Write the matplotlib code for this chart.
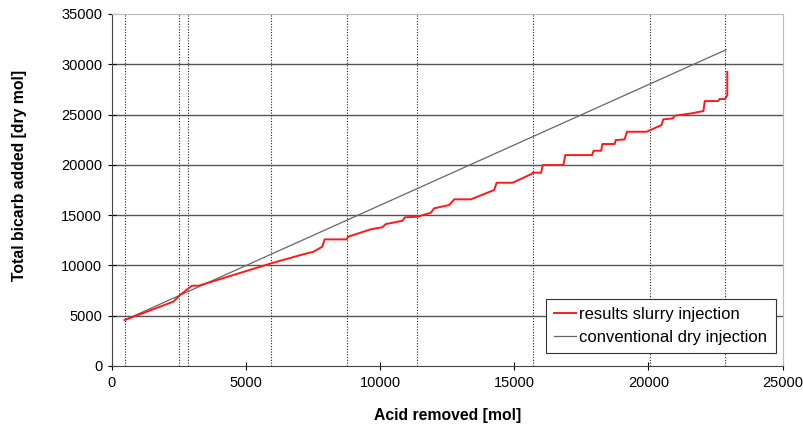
import matplotlib
matplotlib.use("Agg")
import matplotlib.pyplot as plt

plt.rcParams['font.family'] = ['Liberation Sans', 'DejaVu Sans']

# results slurry injection (stepped curve)
slurry_x = [470, 1300, 2290, 2540, 2850, 2980, 3230, 4410, 5940, 7030, 7510, 7840,
            7925, 8750, 8800, 9650, 10080, 10210, 10830, 10920, 11390, 11890, 12010,
            12570, 12760, 13380, 14250, 14340, 14940, 15630, 15690, 16000, 16060,
            16830, 16900, 17900, 17955, 18240, 18280, 18740, 18780, 19110, 19200,
            19930, 20490, 20550, 20920, 20960, 21610, 22050, 22100, 22600, 22650,
            22850, 22940, 22940]
slurry_y = [4570, 5400, 6400, 7060, 7720, 7980, 7980, 8950, 10210, 11030, 11360, 11860,
            12590, 12590, 12850, 13590, 13790, 14110, 14440, 14780, 14840, 15240, 15680,
            16000, 16570, 16570, 17500, 18220, 18220, 19080, 19220, 19220, 19980,
            19980, 20970, 20970, 21400, 21400, 22070, 22070, 22460, 22530, 23290,
            23290, 23960, 24520, 24620, 24880, 25120, 25350, 26340, 26340, 26540,
            26540, 26940, 29250]

# conventional dry injection
dry_x = [460, 22900]
dry_y = [4550, 31450]

# dotted vertical markers
marker_x = [470, 2510, 2850, 5920, 8780, 11380, 15690, 20050, 22870]

fig = plt.figure(figsize=(8.04, 4.37), dpi=100)
ax = fig.add_axes([0.1393, 0.1625, 0.834, 0.8055])

for xv in marker_x:
    ax.axvline(xv, color='#222222', lw=0.8, ls=(0, (1, 1.5)), zorder=1)
for yv in range(5000, 35000, 5000):
    ax.axhline(yv, color='#555555', lw=1.0, zorder=1)

ax.plot(slurry_x, slurry_y, color='#ff1a1a', lw=1.4, label='results slurry injection', zorder=3)
ax.plot(dry_x, dry_y, color='#666666', lw=0.9, label='conventional dry injection', zorder=2)

ax.set_xlim(0, 25000)
ax.set_ylim(0, 35000)
ax.set_xticks(range(0, 25001, 5000))
ax.set_yticks(range(0, 35001, 5000))
ax.tick_params(direction='inout', length=6, width=0.8, labelsize=10.5, pad=4)

for s in ['top', 'right']:
    ax.spines[s].set_color('#bbbbbb')
for s in ['left', 'bottom']:
    ax.spines[s].set_color('#444444')

ax.set_xlabel('Acid removed [mol]', fontsize=11.3, fontweight='bold', labelpad=13)
ax.set_ylabel('Total bicarb added [dry mol]', fontsize=11.3, fontweight='bold')
ax.yaxis.set_label_coords(-0.127, 0.54)

leg = ax.legend(loc='lower right', bbox_to_anchor=(0.99, 0.037), fontsize=12,
                frameon=True, fancybox=False, handlelength=1.3, handletextpad=0.2,
                borderpad=0.5, labelspacing=0.45, borderaxespad=0)
leg.get_frame().set_edgecolor('#333333')
leg.get_frame().set_linewidth(0.8)
leg.get_frame().set_alpha(1)

fig.savefig('out.png', dpi=100)
